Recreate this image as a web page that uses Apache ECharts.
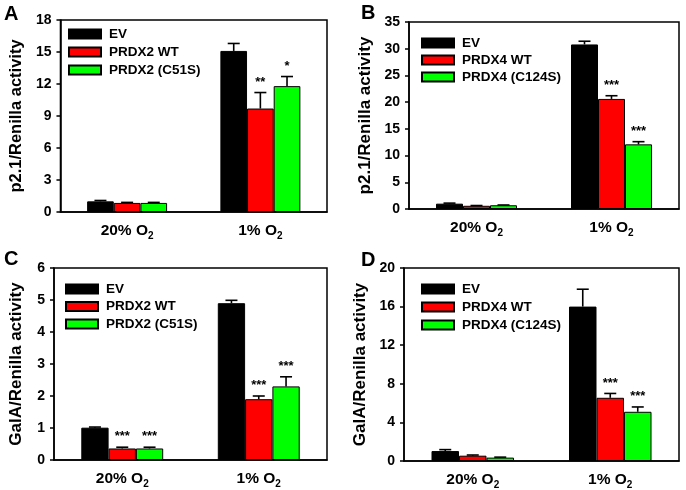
<!DOCTYPE html>
<html>
<head>
<meta charset="utf-8">
<script src="https://cdn.jsdelivr.net/npm/echarts@6/dist/echarts.min.js"></script>
<style>
  html, body { margin: 0; padding: 0; background: #fff; }
  .panel { position: absolute; width: 343px; height: 245px; }
  .letter { position: absolute; font: bold 20px "Liberation Sans", Arial, sans-serif; color: #000; }
</style>
</head>
<body>
<div class="panel" id="pa" style="left:0;top:0"></div>
<div class="panel" id="pb" style="left:343px;top:0"></div>
<div class="panel" id="pc" style="left:0;top:245px"></div>
<div class="panel" id="pd" style="left:343px;top:245px"></div>
<div class="letter" style="left:4px;top:2px">A</div>
<div class="letter" style="left:361px;top:1px">B</div>
<div class="letter" style="left:4px;top:247px">C</div>
<div class="letter" style="left:361px;top:248px">D</div>

<script>
  /******************/
  //region    //data

  const categories = ['20% O2', '1% O2'];
  const colors = ['#000000', '#ff0000', '#00ff00'];

  // A: p2.1 / PRDX2
  const aNames = ['EV', 'PRDX2 WT', 'PRDX2 (C51S)'];
  const aEV = [1.0, 15.1];
  const aWT = [0.85, 9.7];
  const aMut = [0.85, 11.8];
  const aEVErr = [0.08, 0.7];
  const aWTErr = [0.05, 1.5];
  const aMutErr = [0.05, 0.9];
  const aStars = [['', ''], ['', '**'], ['', '*']];

  // B: p2.1 / PRDX4
  const bNames = ['EV', 'PRDX4 WT', 'PRDX4 (C124S)'];
  const bEV = [1.0, 30.8];
  const bWT = [0.6, 20.6];
  const bMut = [0.7, 12.1];
  const bEVErr = [0.1, 0.6];
  const bWTErr = [0.05, 0.6];
  const bMutErr = [0.05, 0.5];
  const bStars = [['', ''], ['', '***'], ['', '***']];

  // C: GalA / PRDX2
  const cNames = ['EV', 'PRDX2 WT', 'PRDX2 (C51S)'];
  const cEV = [1.01, 4.9];
  const cWT = [0.36, 1.9];
  const cMut = [0.36, 2.3];
  const cEVErr = [0.02, 0.09];
  const cWTErr = [0.04, 0.1];
  const cMutErr = [0.04, 0.3];
  const cStars = [['', ''], ['***', '***'], ['***', '***']];

  // D: GalA / PRDX4
  const dNames = ['EV', 'PRDX4 WT', 'PRDX4 (C124S)'];
  const dEV = [1.03, 16.0];
  const dWT = [0.55, 6.55];
  const dMut = [0.35, 5.1];
  const dEVErr = [0.15, 1.8];
  const dWTErr = [0.07, 0.45];
  const dMutErr = [0.05, 0.5];
  const dStars = [['', ''], ['', '***'], ['', '***']];

  //endregion

  /******************/
  //region    //function

  const FONT = '"Liberation Sans", Arial, sans-serif';

  function drawPanel(id, cfg) {
    let chart = echarts.init(document.getElementById(id));
    let rows = [];
    cfg.values.forEach((vals, k) => {
      vals.forEach((v, c) => {
        rows.push([c, k, v, cfg.errs[k][c], cfg.stars[k][c]]);
      });
    });

    let series = cfg.values.map((vals, k) => ({
      name: cfg.names[k],
      type: 'bar',
      data: vals,
      barGap: '0%',
      barCategoryGap: '40%',
      itemStyle: {color: colors[k], borderColor: '#000', borderWidth: 1},
      z: 2,
    }));

    // error bars (upper half) + significance stars
    series.push({
      type: 'custom',
      z: 3,
      data: rows.map(r => [r[0], r[1], r[2], r[3]]),
      renderItem: function (params, api) {
        let row = rows[params.dataIndex];
        let cat = api.value(0), k = api.value(1), v = api.value(2), e = api.value(3);
        let bandW = api.size([1, 0])[0];
        let barW = bandW * 0.6 / 3;
        let cx = api.coord([cat, 0])[0] + (k - 1) * barW;
        let y0 = api.coord([cat, v])[1];
        let y1 = api.coord([cat, v + e])[1];
        let st = {stroke: '#000', lineWidth: 1.6};
        let kids = [
          {type: 'line', shape: {x1: cx, y1: y0, x2: cx, y2: y1}, style: st},
          {type: 'line', shape: {x1: cx - 6, y1: y1, x2: cx + 6, y2: y1}, style: st},
        ];
        if (row[4]) {
          kids.push({
            type: 'text',
            style: {
              x: cx, y: y1 - 4, text: row[4], fill: '#000',
              font: 'bold 13px ' + FONT, align: 'center', verticalAlign: 'bottom'
            }
          });
        }
        return {type: 'group', children: kids};
      }
    });

    let option = {
      animation: false,
      textStyle: {fontFamily: FONT},
      grid: {
        left: cfg.grid[0], top: cfg.grid[1], width: cfg.grid[2], height: cfg.grid[3],
        show: true, borderColor: '#000', borderWidth: 1.5, backgroundColor: 'transparent'
      },
      legend: {
        data: cfg.names,
        orient: 'vertical',
        padding: 0,
        left: cfg.legend[0], top: cfg.legend[1],
        icon: 'rect',
        itemWidth: 32, itemHeight: 9, itemGap: cfg.legend[2],
        textStyle: {color: '#000', fontWeight: 'bold', fontSize: 13.5, fontFamily: FONT, lineHeight: 13, padding: [0, 0, 0, 3]},
      },
      xAxis: {
        type: 'category',
        data: categories,
        axisLine: {lineStyle: {color: '#000', width: 1.5}},
        axisTick: {show: false},
        axisLabel: {
          margin: 9,
          formatter: v => '{a|' + v.slice(0, -1) + '}{s|' + v.slice(-1) + '}',
          rich: {
            a: {fontSize: 15.5, fontWeight: 'bold', color: '#000', fontFamily: FONT, lineHeight: 20},
            s: {fontSize: 10, fontWeight: 'bold', color: '#000', fontFamily: FONT, lineHeight: 10, verticalAlign: 'bottom'},
          }
        },
      },
      yAxis: {
        type: 'value',
        min: 0, max: cfg.max, interval: cfg.interval,
        name: cfg.yName,
        nameLocation: 'middle',
        nameGap: cfg.nameGap,
        nameTextStyle: {fontSize: cfg.nameSize, fontWeight: 'bold', color: '#000', fontFamily: FONT},
        axisLine: {show: true, lineStyle: {color: '#000', width: 1.5}},
        axisTick: {show: true, length: 4, lineStyle: {color: '#000', width: 1.5}},
        axisLabel: {fontSize: 14, fontWeight: 'bold', color: '#000', margin: 9, fontFamily: FONT},
        splitLine: {show: false},
      },
      series: series,
    };
    chart.setOption(option);
  }

  //endregion

  /******************/
  //region    //draw

  drawPanel('pa', {
    names: aNames, values: [aEV, aWT, aMut], errs: [aEVErr, aWTErr, aMutErr], stars: aStars,
    max: 18, interval: 3, yName: 'p2.1/Renilla activity', nameSize: 16.5, nameGap: 29,
    grid: [50, 20, 277, 192], legend: [68, 27, 4],
  });
  drawPanel('pb', {
    names: bNames, values: [bEV, bWT, bMut], errs: [bEVErr, bWTErr, bMutErr], stars: bStars,
    max: 35, interval: 5, yName: 'p2.1/Renilla activity', nameSize: 17, nameGap: 29,
    grid: [66, 22, 270, 187], legend: [78, 36, 3],
  });
  drawPanel('pc', {
    names: cNames, values: [cEV, cWT, cMut], errs: [cEVErr, cWTErr, cMutErr], stars: cStars,
    max: 6, interval: 1, yName: 'GalA/Renilla activity', nameSize: 17, nameGap: 29,
    grid: [50, 23, 277, 192], legend: [65, 37, 3.5],
  });
  drawPanel('pd', {
    names: dNames, values: [dEV, dWT, dMut], errs: [dEVErr, dWTErr, dMutErr], stars: dStars,
    max: 20, interval: 4, yName: 'GalA/Renilla activity', nameSize: 17, nameGap: 29,
    grid: [61, 23, 275, 193], legend: [78, 37, 4],
  });

  //endregion
</script>
</body>
</html>
